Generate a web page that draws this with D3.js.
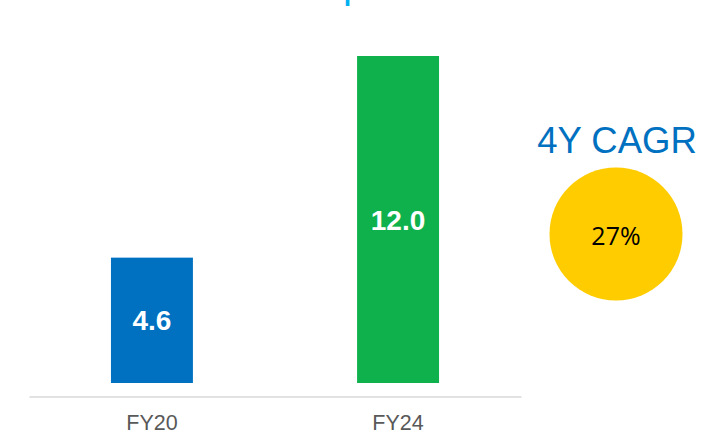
<!DOCTYPE html>
<html><head><meta charset="utf-8">
<script src="https://cdn.jsdelivr.net/npm/d3@7"></script>
<style>body{margin:0;background:#fff}svg{display:block}</style>
</head><body>
<script>
const categories = ["FY20", "FY24"];
const values = [4.6, 12.0];
const valueLabels = ["4.6", "12.0"];
const barColors = ["#0070c0", "#0fb14c"];
const cagrTitle = "4Y CAGR";
const cagrValue = "27%";
const titleFragment = "p";

const W = 703, H = 435;
const svg = d3.select("body").append("svg").attr("width", W).attr("height", H);
const font = "'Liberation Sans', Arial, sans-serif";

// cut-off title descender at top (the reference's title lies above the frame)
svg.append("text").attr("x", 343).attr("y", -2).text(titleFragment)
  .attr("font-family", font).attr("font-size", 40).attr("fill", "#00b0f0");

const x = d3.scaleBand().domain(categories).range([29, 521]).paddingInner(0.667).paddingOuter(0.333);
const y = d3.scaleLinear().domain([0, 12]).range([383, 56]);

svg.selectAll("rect.bar").data(values).join("rect").attr("class", "bar")
  .attr("x", (d, i) => x(categories[i])).attr("width", x.bandwidth())
  .attr("y", d => y(d)).attr("height", d => y(0) - y(d))
  .attr("fill", (d, i) => barColors[i]);

svg.selectAll("text.val").data(values).join("text").attr("class", "val")
  .attr("x", (d, i) => x(categories[i]) + x.bandwidth() / 2)
  .attr("y", d => (y(d) + y(0)) / 2).attr("dy", "0.36em")
  .attr("text-anchor", "middle").attr("font-family", font).attr("font-weight", "bold")
  .attr("font-size", 28).attr("fill", "#fff").text((d, i) => valueLabels[i]);

// axis
const axis = svg.append("g").attr("transform", "translate(0,396.5)")
  .call(d3.axisBottom(x).tickSize(0).tickPadding(18.5));
axis.select(".domain").attr("stroke", "#d9d9d9").attr("stroke-width", 1.5);
axis.selectAll("text").attr("font-family", font).attr("font-size", 21.5).attr("fill", "#595959");

// CAGR
svg.append("text").attr("x", 617).attr("y", 153).attr("text-anchor", "middle")
  .attr("font-family", font).attr("font-size", 36.5).attr("fill", "#0070c0").text(cagrTitle);
svg.append("circle").attr("cx", 616).attr("cy", 234).attr("r", 66.5).attr("fill", "#ffcc00");
svg.append("text").attr("x", 616).attr("y", 236).attr("dy", "0.36em").attr("text-anchor", "middle")
  .attr("font-family", "'Open Sans', 'Noto Sans', sans-serif").attr("font-size", 25).attr("fill", "#000").text(cagrValue);
</script>
</body></html>
